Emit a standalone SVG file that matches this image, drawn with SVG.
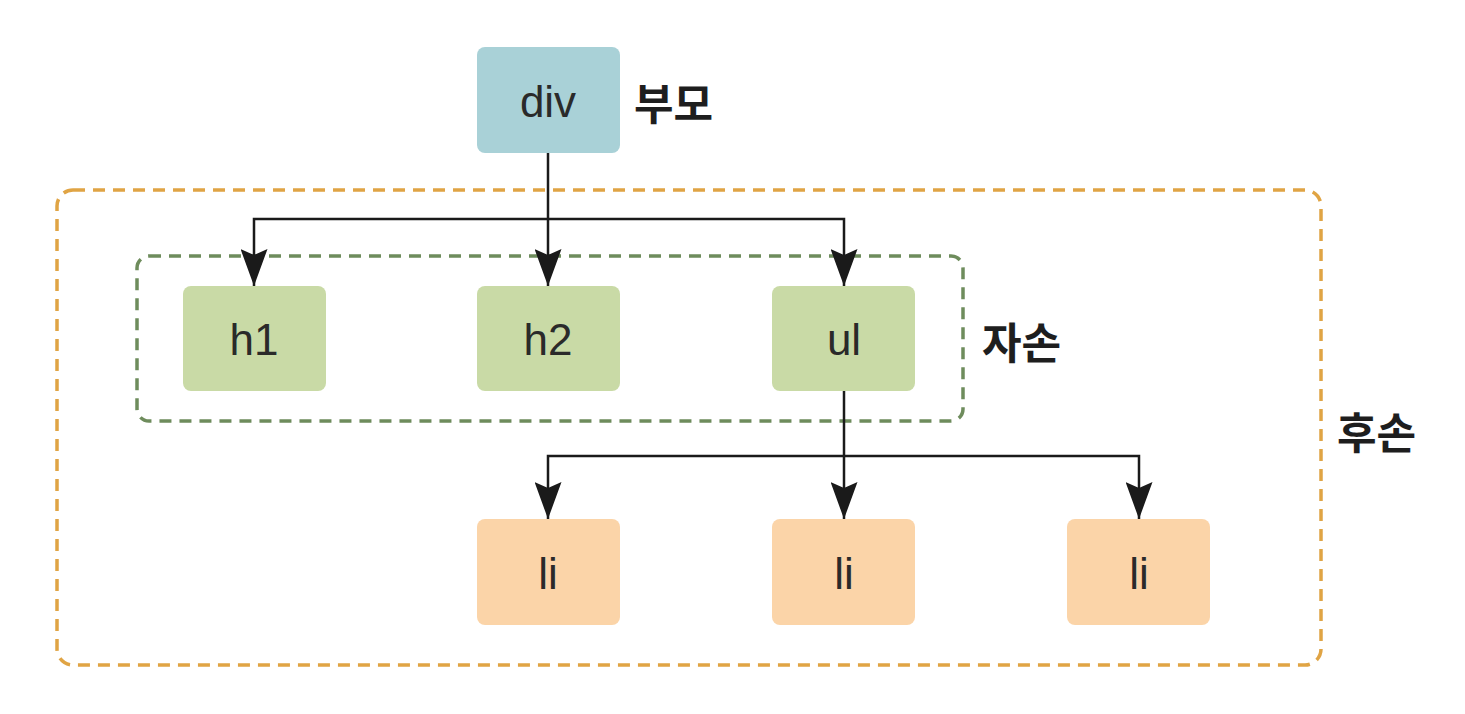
<svg xmlns="http://www.w3.org/2000/svg" width="1465" height="714" viewBox="0 0 1465 714">
<defs>
<marker id="arr" markerWidth="37" markerHeight="27" refX="37" refY="13.5" orient="auto-start-reverse" markerUnits="userSpaceOnUse" viewBox="0 0 37 27">
<path d="M0,0 L6,13.5 L0,27 L37,13.5 Z" fill="#1a1a1a"/>
</marker>
<style>
.node text{font-family:"Liberation Sans",Arial,sans-serif;font-size:44px;fill:#2a2a2a;text-anchor:middle;dominant-baseline:central}
.lbl{font-family:"Noto Sans CJK KR","Noto Sans",sans-serif;font-size:43px;font-weight:bold;fill:#1e1e1e;dominant-baseline:central}
.blue{fill:#a9d1d7}
.green{fill:#c9daa6}
.orange{fill:#fbd4a8}
.conn path{fill:none;stroke:#1a1a1a;stroke-width:2.5}
</style>
</defs>
<rect width="1465" height="714" fill="#ffffff"/>
<g id="group-descendants">
<rect x="57" y="190" width="1264" height="475" rx="16" fill="none" stroke="#e0a444" stroke-width="3.5" stroke-dasharray="12,8"/>
</g>
<g id="group-children">
<rect x="137" y="256" width="826" height="165" rx="12" fill="none" stroke="#6e8c5c" stroke-width="3.5" stroke-dasharray="12,8"/>
</g>
<g class="conn" id="connectors">
<path d="M548,153 V286" marker-end="url(#arr)"/>
<path d="M254,286 V219 H844 V286" marker-start="url(#arr)" marker-end="url(#arr)"/>
<path d="M844,391 V519" marker-end="url(#arr)"/>
<path d="M548,519 V456 H1139 V519" marker-start="url(#arr)" marker-end="url(#arr)"/>
</g>
<g class="node" id="div"><rect class="blue" x="477" y="47" width="143" height="106" rx="8"/><text x="548" y="101">div</text></g>
<g class="node" id="h1"><rect class="green" x="183" y="286" width="143" height="105" rx="8"/><text x="254" y="339">h1</text></g>
<g class="node" id="h2"><rect class="green" x="477" y="286" width="143" height="105" rx="8"/><text x="548" y="339">h2</text></g>
<g class="node" id="ul"><rect class="green" x="772" y="286" width="143" height="105" rx="8"/><text x="844" y="339">ul</text></g>
<g class="node" id="li1"><rect class="orange" x="477" y="519" width="143" height="106" rx="8"/><text x="548" y="573">li</text></g>
<g class="node" id="li2"><rect class="orange" x="772" y="519" width="143" height="106" rx="8"/><text x="844" y="573">li</text></g>
<g class="node" id="li3"><rect class="orange" x="1067" y="519" width="143" height="106" rx="8"/><text x="1139" y="573">li</text></g>
<g id="labels">
<text class="lbl" x="634" y="101">부모</text>
<text class="lbl" x="982" y="340">자손</text>
<text class="lbl" x="1337" y="430">후손</text>
</g>
</svg>
